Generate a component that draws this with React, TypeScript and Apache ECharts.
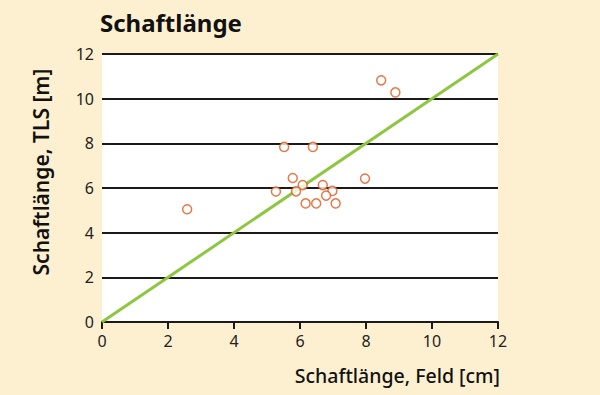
import React, { useEffect, useRef } from "react";
import * as echarts from "echarts";

const feldValues = [2.58, 8.46, 8.89, 5.52, 6.39, 5.78, 6.08, 5.27, 5.88, 6.69, 6.98, 6.79, 7.97, 6.17, 6.49, 7.08];
const tlsValues = [5.05, 10.82, 10.28, 7.84, 7.84, 6.45, 6.13, 5.84, 5.85, 6.13, 5.87, 5.66, 6.42, 5.31, 5.31, 5.31];
const diagonal = [[0, 0], [12, 12]];
const titleText = "Schaftlänge";
const xName = "Schaftlänge, Feld [cm]";
const yName = "Schaftlänge, TLS [m]";

export default function App() {
  const ref = useRef<HTMLDivElement>(null);
  useEffect(() => {
    document.body.style.margin = "0";
    const chart = echarts.init(ref.current!, null, { renderer: "svg" });
    const font = "Noto Sans";
    chart.setOption({
      animation: false,
      backgroundColor: "#FDF0D0",
      grid: {
        left: 102, right: 102, top: 54, bottom: 73,
        show: true, backgroundColor: "#ffffff", borderWidth: 0,
      },
      xAxis: {
        type: "value", min: 0, max: 12, interval: 2,
        axisLine: { show: true, lineStyle: { color: "#1a1a1a", width: 2 } },
        axisTick: { show: true, length: 7, lineStyle: { color: "#1a1a1a", width: 2 } },
        axisLabel: { color: "#222", fontSize: 16, fontFamily: font, margin: 11 },
        splitLine: { show: false },
      },
      yAxis: {
        type: "value", min: 0, max: 12, interval: 2,
        axisLine: { show: false },
        axisTick: { show: false },
        axisLabel: { color: "#222", fontSize: 16, fontFamily: font, margin: 8 },
        splitLine: { show: true, lineStyle: { color: "#1a1a1a", width: 2.2 } },
      },
      graphic: [
        { type: "text", left: 100, top: 10, style: { text: titleText, font: `bold 24px "${font}"`, fill: "#111" } },
        { type: "text", right: 100, top: 365, style: { text: xName, font: `500 19.5px "${font}"`, fill: "#111" } },
        { type: "text", x: 41, y: 172, rotation: Math.PI / 2, style: { text: yName, font: `600 21px "${font}"`, fill: "#111", align: "center", verticalAlign: "middle" } },
      ],
      series: [
        {
          type: "line", data: diagonal, showSymbol: false, symbol: "none",
          lineStyle: { color: "#8DC63F", width: 3 }, z: 2,
        },
        {
          type: "scatter",
          data: feldValues.map((v, i) => [v, tlsValues[i]]),
          symbol: "circle", symbolSize: 9,
          itemStyle: { color: "#ffffff", borderColor: "#E0561C", borderWidth: 1.5 },
          z: 3,
        },
      ],
    });
    return () => chart.dispose();
  }, []);
  return <div ref={ref} style={{ width: 600, height: 395 }} />;
}
